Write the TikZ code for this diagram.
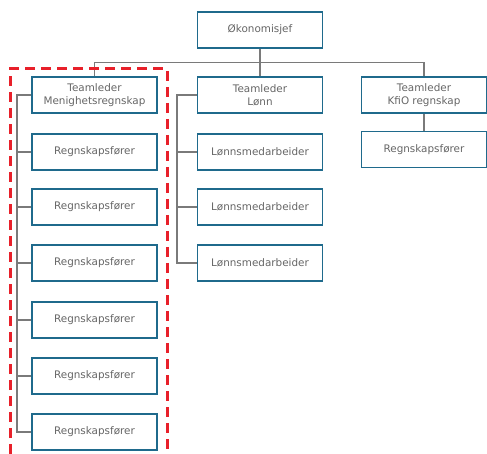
\documentclass[tikz,border=0pt]{standalone}
\usepackage{fontspec}
\setmainfont{DejaVu Sans}
\usepackage{xcolor}
\usepackage{tikz}
\usetikzlibrary{positioning}
\definecolor{boxblue}{HTML}{1F6A8C}
\definecolor{txtgray}{HTML}{666666}
\definecolor{linegray}{HTML}{7A7A7A}
\definecolor{markred}{HTML}{E8202A}

\begin{document}
\begin{tikzpicture}[x=1pt,y=-1pt,
		unit/.style={draw=boxblue,line width=1.4pt,fill=white,minimum width=125pt,minimum height=36pt,inner sep=1pt,align=center,text=txtgray,font=\fontsize{10.4}{13}\selectfont},
		link/.style={draw=linegray,line width=1.4pt}]
		\useasboundingbox (0,0) rectangle (487,454);
		% ledelse
		\node[unit] (ok) at (260,30) {Økonomisjef};
		\node[unit] (tm) at (94.5,95) {Teamleder\\Menighetsregnskap};
		\node[unit] (tl) at (260,95) {Teamleder\\Lønn};
		\node[unit] (tk) at (424,95) {Teamleder\\KfiO regnskap};
		% menighetsregnskap
		\node[unit] (r1) at (94.5,152) {Regnskapsfører};
		\node[unit] (r2) at (94.5,207) {Regnskapsfører};
		\node[unit] (r3) at (94.5,263) {Regnskapsfører};
		\node[unit] (r4) at (94.5,320) {Regnskapsfører};
		\node[unit] (r5) at (94.5,376) {Regnskapsfører};
		\node[unit] (r6) at (94.5,432) {Regnskapsfører};
		% lønn
		\node[unit] (l1) at (260,152) {Lønnsmedarbeider};
		\node[unit] (l2) at (260,207) {Lønnsmedarbeider};
		\node[unit] (l3) at (260,263) {Lønnsmedarbeider};
		% kfio
		\node[unit] (k1) at (424,149.5) {Regnskapsfører};
		% linjer
		\coordinate (bus) at (260,62.5);
		\coordinate (ms) at (17,95);
		\coordinate (ls) at (177,95);
		\draw[link] (ok.south) -- (bus);
		\draw[link] (tm.north) |- (bus) -| (tk.north);
		\draw[link] (bus) -- (tl.north);
		\draw[link] (tm.west) -- (ms) |- (r6.west);
		\foreach \n in {r1,r2,r3,r4,r5}
			\draw[link] (ms |- \n.west) -- (\n.west);
		\draw[link] (tl.west) -- (ls) |- (l3.west);
		\foreach \n in {l1,l2}
			\draw[link] (ls |- \n.west) -- (\n.west);
		\draw[link] (tk.south) -- (k1.north);
		% markering
		\draw[markred,line width=3pt,dash pattern=on 10pt off 6pt] (10,454) -- (10,69) -- (167,69) -- (167,454);
	\end{tikzpicture}
\end{document}
